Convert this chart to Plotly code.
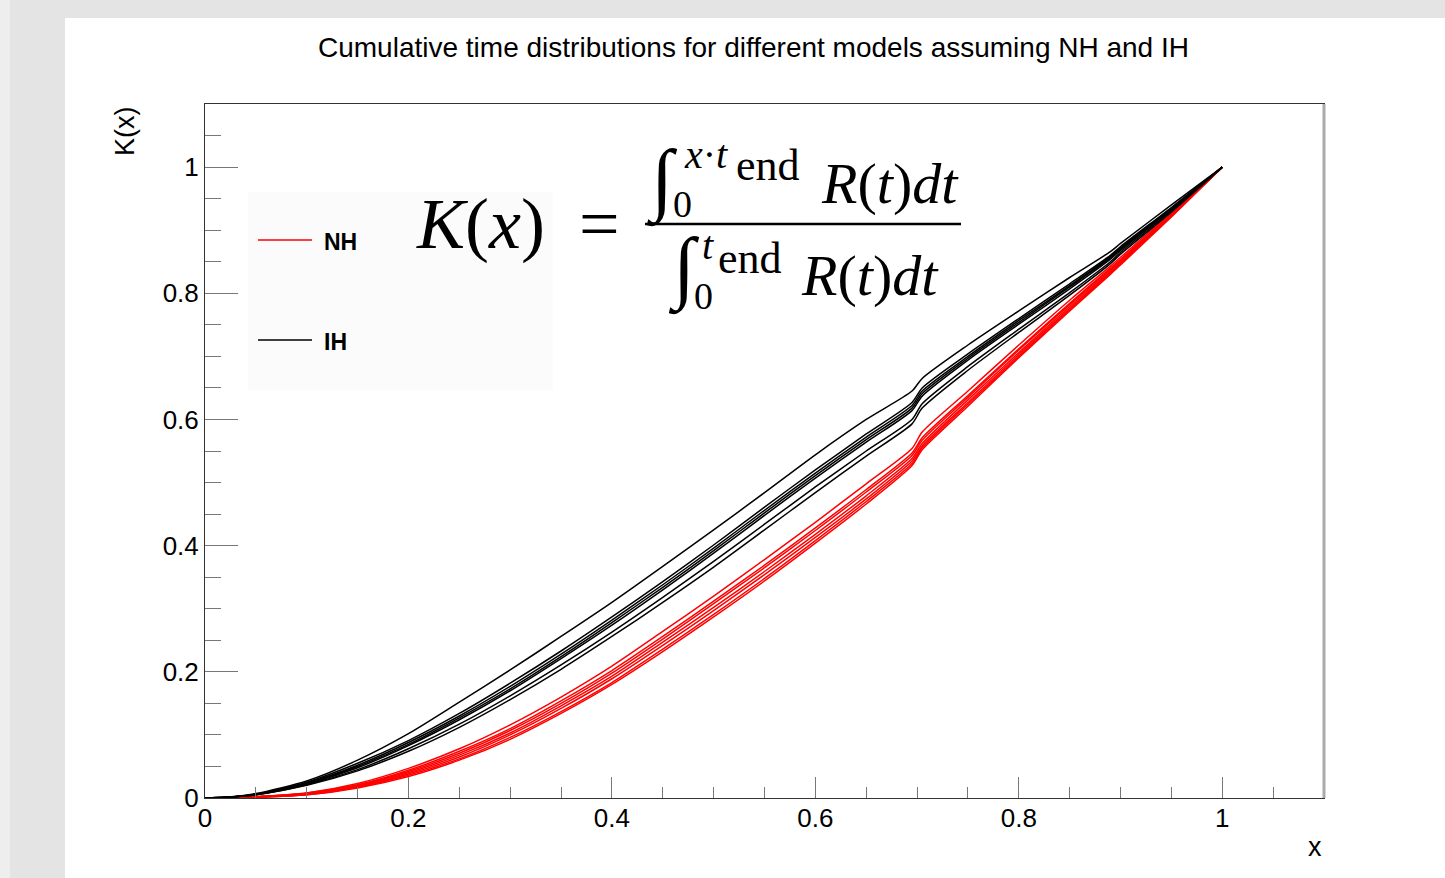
import plotly.graph_objects as go

# ---------------- data ----------------
x_grid = [0, 0.02, 0.05, 0.1, 0.15, 0.2, 0.25, 0.3, 0.35, 0.4, 0.45, 0.5, 0.55,
          0.6, 0.65, 0.695, 0.705, 0.75, 0.8, 0.85, 0.89, 0.9, 0.95, 1.0]

ih_1 = [0, 0.001, 0.007, 0.027, 0.060, 0.102, 0.152, 0.203, 0.256, 0.31, 0.367, 0.425, 0.484,
        0.544, 0.600, 0.645, 0.665, 0.718, 0.772, 0.825, 0.866, 0.879, 0.94, 1.0]
ih_2 = [0, 0.001, 0.006, 0.025, 0.055, 0.091, 0.134, 0.182, 0.233, 0.287, 0.343, 0.401, 0.461,
        0.52, 0.577, 0.627, 0.65, 0.704, 0.76, 0.815, 0.86, 0.874, 0.936, 1.0]
ih_3 = [0, 0.001, 0.006, 0.024, 0.052, 0.088, 0.13, 0.177, 0.228, 0.282, 0.338, 0.396, 0.456,
        0.515, 0.572, 0.622, 0.645, 0.70, 0.757, 0.812, 0.858, 0.872, 0.935, 1.0]
ih_4 = [0, 0.001, 0.006, 0.023, 0.050, 0.085, 0.127, 0.173, 0.224, 0.278, 0.334, 0.392, 0.452,
        0.511, 0.568, 0.618, 0.641, 0.697, 0.754, 0.81, 0.856, 0.87, 0.934, 1.0]
ih_5 = [0, 0.001, 0.005, 0.022, 0.048, 0.083, 0.124, 0.17, 0.221, 0.274, 0.33, 0.388, 0.448,
        0.507, 0.564, 0.614, 0.637, 0.694, 0.751, 0.807, 0.854, 0.868, 0.933, 1.0]
ih_6 = [0, 0.001, 0.005, 0.021, 0.045, 0.078, 0.117, 0.162, 0.211, 0.263, 0.318, 0.375, 0.434,
        0.493, 0.55, 0.6, 0.625, 0.684, 0.743, 0.801, 0.85, 0.865, 0.931, 1.0]
ih_7 = [0, 0.001, 0.005, 0.020, 0.043, 0.074, 0.112, 0.156, 0.204, 0.256, 0.31, 0.366, 0.425,
        0.484, 0.542, 0.593, 0.618, 0.678, 0.738, 0.797, 0.847, 0.862, 0.929, 1.0]

nh_1 = [0, 0, 0.002, 0.008, 0.023, 0.047, 0.078, 0.116, 0.16, 0.209, 0.264, 0.32, 0.378,
        0.437, 0.498, 0.554, 0.58, 0.645, 0.718, 0.789, 0.843, 0.857, 0.928, 1.0]
nh_2 = [0, 0, 0.002, 0.008, 0.021, 0.044, 0.074, 0.11, 0.154, 0.202, 0.256, 0.312, 0.369,
        0.428, 0.489, 0.547, 0.571, 0.638, 0.712, 0.784, 0.84, 0.854, 0.926, 1.0]
nh_3 = [0, 0, 0.002, 0.007, 0.02, 0.042, 0.071, 0.107, 0.15, 0.198, 0.252, 0.308, 0.365,
        0.424, 0.485, 0.543, 0.567, 0.635, 0.71, 0.782, 0.838, 0.852, 0.925, 1.0]
nh_4 = [0, 0, 0.002, 0.006, 0.019, 0.04, 0.068, 0.103, 0.146, 0.193, 0.247, 0.302, 0.359,
        0.418, 0.479, 0.538, 0.562, 0.631, 0.706, 0.779, 0.836, 0.85, 0.924, 1.0]
nh_5 = [0, 0, 0.001, 0.006, 0.018, 0.038, 0.065, 0.1, 0.142, 0.189, 0.242, 0.297, 0.354,
        0.413, 0.474, 0.534, 0.558, 0.627, 0.703, 0.776, 0.834, 0.848, 0.923, 1.0]
nh_6 = [0, 0, 0.001, 0.005, 0.017, 0.036, 0.062, 0.096, 0.137, 0.183, 0.236, 0.291, 0.348,
        0.408, 0.47, 0.53, 0.555, 0.624, 0.70, 0.774, 0.832, 0.847, 0.922, 1.0]
nh_7 = [0, 0, 0.001, 0.005, 0.016, 0.034, 0.06, 0.093, 0.134, 0.18, 0.232, 0.287, 0.344,
        0.404, 0.466, 0.527, 0.552, 0.621, 0.698, 0.772, 0.83, 0.845, 0.921, 1.0]

ih_curves = [ih_1, ih_2, ih_3, ih_4, ih_5, ih_6, ih_7]
nh_curves = [nh_1, nh_2, nh_3, nh_4, nh_5, nh_6, nh_7]

x_ticks = [0, 0.2, 0.4, 0.6, 0.8, 1]
x_tick_text = ["0", "0.2", "0.4", "0.6", "0.8", "1"]
y_ticks = [0, 0.2, 0.4, 0.6, 0.8, 1]
y_tick_text = ["0", "0.2", "0.4", "0.6", "0.8", "1"]

legend_labels = ["NH", "IH"]
legend_colors = ["#ff0000", "#000000"]

# ---------------- figure ----------------
W, H = 1445, 878
L, R, T, B = 205, 1324, 104, 798


def px(xp):
    return (xp - L) / (R - L)


def py(yp):
    return (B - yp) / (B - T)


fig = go.Figure()

for ys in nh_curves:
    fig.add_trace(go.Scatter(x=x_grid, y=ys, mode="lines", name="NH", showlegend=False,
                             line=dict(color=legend_colors[0], width=1.5,
                                       shape="spline", smoothing=0.7)))
for ys in ih_curves:
    fig.add_trace(go.Scatter(x=x_grid, y=ys, mode="lines", name="IH", showlegend=False,
                             line=dict(color=legend_colors[1], width=1.5,
                                       shape="spline", smoothing=0.7)))

font_sans = "Liberation Sans, Arial, Helvetica, sans-serif"
font_serif = "Liberation Serif, Times New Roman, serif"

axis_common = dict(
    showgrid=False, zeroline=False, showline=True, mirror=True,
    linecolor="#333333", linewidth=1,
    ticks="inside", tickcolor="#777777", tickwidth=1,
    tickfont=dict(family=font_sans, size=26, color="#000000"),
)

fig.update_xaxes(range=[0, 1.1], tickvals=x_ticks, ticktext=x_tick_text, ticklen=21,
                 ticklabelstandoff=-3,
                 minor=dict(ticks="inside", dtick=0.05, tick0=0, ticklen=11,
                            tickcolor="#777777", tickwidth=1),
                 **axis_common)
fig.update_yaxes(range=[0, 1.1], tickvals=y_ticks, ticktext=y_tick_text, ticklen=33,
                 minor=dict(ticks="inside", dtick=0.05, tick0=0, ticklen=16,
                            tickcolor="#777777", tickwidth=1),
                 **axis_common)

shapes = [
    # grey window frame
    dict(type="rect", xref="paper", yref="paper", x0=px(0), x1=px(10), y0=py(H), y1=py(0),
         fillcolor="#eeeeee", line=dict(width=0), layer="below"),
    dict(type="rect", xref="paper", yref="paper", x0=px(10), x1=px(65), y0=py(H), y1=py(0),
         fillcolor="#e4e4e4", line=dict(width=0), layer="below"),
    dict(type="rect", xref="paper", yref="paper", x0=px(10), x1=px(W), y0=py(18), y1=py(0),
         fillcolor="#e4e4e4", line=dict(width=0), layer="below"),
    # legend box
    dict(type="rect", xref="paper", yref="paper", x0=px(248), x1=px(553), y0=py(390), y1=py(192),
         fillcolor="#fbfbfb", line=dict(width=0), layer="below"),
    # right frame edge (grey)
    dict(type="line", xref="paper", yref="paper", x0=1.0, x1=1.0, y0=0, y1=1,
         line=dict(color="#aaaaaa", width=3)),
    # fraction bar
    dict(type="line", xref="paper", yref="paper", x0=px(645), x1=px(961), y0=py(224), y1=py(224),
         line=dict(color="#000000", width=2.5)),
]

# legend samples
legend_rows = [240, 340]
for lab, col, yrow in zip(legend_labels, legend_colors, legend_rows):
    shapes.append(dict(type="line", xref="paper", yref="paper", x0=px(258), x1=px(312),
                       y0=py(yrow), y1=py(yrow), line=dict(color=col, width=1.5)))

annotations = [
    # title
    dict(text="Cumulative time distributions for different models assuming NH and IH",
         xref="paper", yref="paper", x=px(753), y=py(47), xanchor="center", yanchor="middle",
         showarrow=False, font=dict(family=font_sans, size=28, color="#000000")),
    # y-axis title
    dict(text="K(x)", xref="paper", yref="paper", x=px(125), y=py(104), xanchor="center",
         yanchor="top", textangle=-90, showarrow=False,
         font=dict(family=font_sans, size=27, color="#000000")),
    # x-axis title
    dict(text="x", xref="paper", yref="paper", x=px(1324), y=py(847), xanchor="right",
         yanchor="middle", showarrow=False,
         font=dict(family=font_sans, size=27, color="#000000")),
    # formula: K(x) =
    dict(text="<i>K</i>(<i>x</i>)", xref="paper", yref="paper", x=px(414), y=py(224),
         xanchor="left", yanchor="middle", showarrow=False,
         font=dict(family=font_serif, size=72, color="#000000")),
    dict(text="=", xref="paper", yref="paper", x=px(599), y=py(224),
         xanchor="center", yanchor="middle", showarrow=False,
         font=dict(family=font_serif, size=72, color="#000000")),
    # numerator
    dict(text="∫", xref="paper", yref="paper", x=px(662), y=py(180), xanchor="center",
         yanchor="middle", showarrow=False,
         font=dict(family=font_serif, size=80, color="#000000")),
    dict(text="0", xref="paper", yref="paper", x=px(682), y=py(204), xanchor="center",
         yanchor="middle", showarrow=False,
         font=dict(family=font_serif, size=38, color="#000000")),
    dict(text="<i>x</i>·<i>t</i>", xref="paper", yref="paper", x=px(682), y=py(155),
         xanchor="left", yanchor="middle", showarrow=False,
         font=dict(family=font_serif, size=40, color="#000000")),
    dict(text="end", xref="paper", yref="paper", x=px(734), y=py(165), xanchor="left",
         yanchor="middle", showarrow=False,
         font=dict(family=font_serif, size=44, color="#000000")),
    dict(text="<i>R</i>(<i>t</i>)<i>dt</i>", xref="paper", yref="paper", x=px(961), y=py(183),
         xanchor="right", yanchor="middle", showarrow=False,
         font=dict(family=font_serif, size=58, color="#000000")),
    # denominator
    dict(text="∫", xref="paper", yref="paper", x=px(684), y=py(268), xanchor="center",
         yanchor="middle", showarrow=False,
         font=dict(family=font_serif, size=80, color="#000000")),
    dict(text="0", xref="paper", yref="paper", x=px(703), y=py(296), xanchor="center",
         yanchor="middle", showarrow=False,
         font=dict(family=font_serif, size=38, color="#000000")),
    dict(text="<i>t</i>", xref="paper", yref="paper", x=px(700), y=py(245), xanchor="left",
         yanchor="middle", showarrow=False,
         font=dict(family=font_serif, size=40, color="#000000")),
    dict(text="end", xref="paper", yref="paper", x=px(716), y=py(258), xanchor="left",
         yanchor="middle", showarrow=False,
         font=dict(family=font_serif, size=44, color="#000000")),
    dict(text="<i>R</i>(<i>t</i>)<i>dt</i>", xref="paper", yref="paper", x=px(941), y=py(275),
         xanchor="right", yanchor="middle", showarrow=False,
         font=dict(family=font_serif, size=58, color="#000000")),
]

# legend labels
for lab, yrow in zip(legend_labels, legend_rows):
    annotations.append(dict(text="<b>" + lab + "</b>", xref="paper", yref="paper",
                            x=px(322), y=py(yrow + 2), xanchor="left", yanchor="middle",
                            showarrow=False,
                            font=dict(family=font_sans, size=23, color="#000000")))

fig.update_layout(
    width=W, height=H,
    margin=dict(l=L, r=W - R, t=T, b=H - B, pad=0),
    paper_bgcolor="#ffffff", plot_bgcolor="#ffffff",
    showlegend=False,
    shapes=shapes, annotations=annotations,
)

fig.write_html("out.html", config={"displayModeBar": False},
               post_script="document.body.style.margin='0px';")
